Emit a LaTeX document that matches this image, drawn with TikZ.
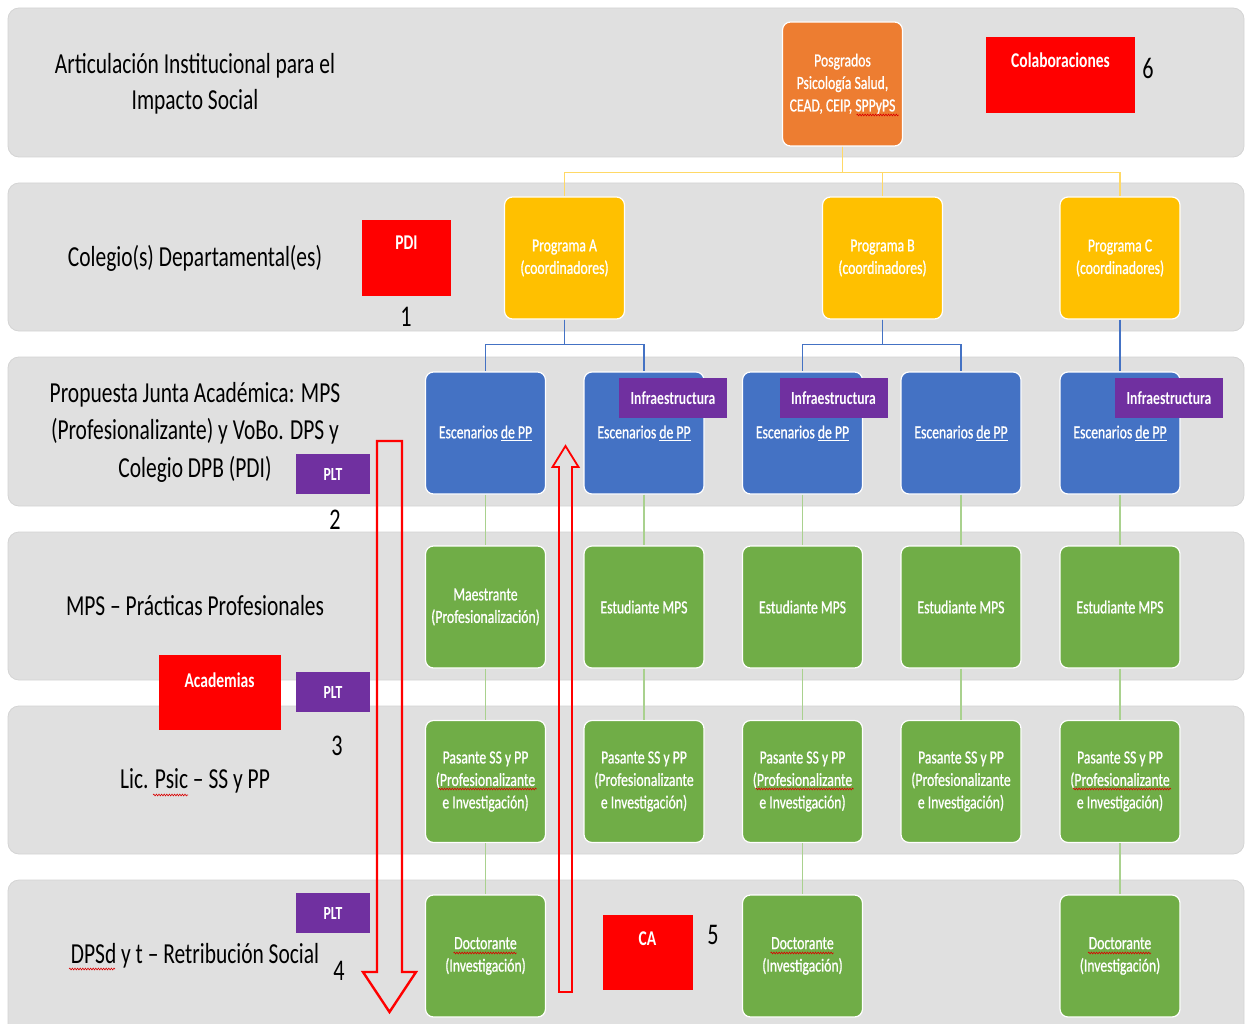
\documentclass[tikz,border=0pt]{standalone}
\usepackage{fontspec}
\setmainfont[FakeStretch=0.74]{Carlito}
\newfontfamily\boxfam[FakeStretch=0.74, FakeBold=0.8]{Carlito}
\usetikzlibrary{decorations.pathmorphing}
\definecolor{bandc}{HTML}{E0E0E0}
\definecolor{bandl}{HTML}{D4D4D4}
\definecolor{bluec}{HTML}{4472C4}
\definecolor{greenc}{HTML}{70AD47}
\definecolor{greenl}{HTML}{A9D18E}
\definecolor{yellowc}{HTML}{FFC000}
\definecolor{yellowl}{HTML}{FFD966}
\definecolor{orangec}{HTML}{ED7D31}
\definecolor{purplec}{HTML}{7030A0}
\definecolor{redc}{HTML}{FF0000}
\newcommand\boxfnt{\boxfam\fontsize{18.5}{22.5}\selectfont}
\newcommand\tagfnt{\fontsize{18.5}{22.5}\selectfont\bfseries}
\newcommand\lblfnt{\fontsize{29}{36}\selectfont}
\newcommand\numfnt{\fontsize{30}{36}\selectfont}
\tikzset{
  band/.style={fill=bandc, draw=bandl, line width=0.8, rounded corners=11},
  box/.style={rounded corners=8, minimum width=120, minimum height=122,
    align=center, inner sep=0, draw=white, line width=1.2, text=white, font=\boxfnt},
  tag/.style={fill=purplec, text=white, font=\tagfnt, inner sep=0, align=center},
  redbox/.style={fill=redc, text=white, inner sep=0, align=center, font=\fontsize{21}{24}\selectfont\bfseries},
  lbl/.style={align=center, font=\lblfnt, text=black},
  num/.style={font=\numfnt, text=black, inner sep=0},
  yl/.style={draw=yellowl, line width=1.4},
  bl/.style={draw=bluec, line width=1.2},
  gl/.style={draw=greenl, line width=1.2},
  blockarrow/.style={draw=redc, line join=miter},
  squig/.style={draw=red!85!black, line width=0.6, decorate,
    decoration={snake, amplitude=0.9, segment length=2.6}}
}
\begin{document}
\begin{tikzpicture}[x=1pt,y=-1pt]
\clip (0,0) rectangle (1247,1024);
\fill[white] (0,0) rectangle (1247,1024);
% bands
\foreach \t/\b in {8/157,183/331,357/506,532/680,706/854,880/1045}
  \path[band] (8,\t) rectangle (1244,\b);

% left labels
\node[lbl] (l1) at (195,84) {Articulación Institucional para el\\Impacto Social};
\node[lbl] (l2) at (195,258) {Colegio(s) Departamental(es)};
\node[lbl, font=\fontsize{29}{37.5}\selectfont] (l3) at (195,432) {Propuesta Junta Académica: MPS\\(Profesionalizante) y VoBo. DPS y\\Colegio DPB (PDI)};
\node[lbl] (l4) at (195,606) {MPS – Prácticas Profesionales};
\node[lbl] (l5) at (195,781) {Lic. Psic – SS y PP};
\node[lbl] (l6) at (195,956) {DPSd y t – Retribución Social};

% red boxes
\node[redbox, minimum width=89, text height=30, text depth=46] (pdi) at (406.5,258) {PDI};
\node[redbox, minimum width=149, text height=31, text depth=45] (colab) at (1060.5,75) {Colaboraciones};
\node[redbox, minimum width=122, text height=32, text depth=43] (acad) at (219.5,692.5) {Academias};
\node[redbox, minimum width=90, text height=30, text depth=45] (ca) at (647.5,952.5) {CA};

% PLT boxes
\node[tag, minimum width=74, minimum height=40] (plt1) at (333,474) {PLT};
\node[tag, minimum width=74, minimum height=40] (plt2) at (333,692) {PLT};
\node[tag, minimum width=74, minimum height=40] (plt3) at (333,913) {PLT};

% numbers
\node[num] (n1) at (406,317) {1};
\node[num] (n2) at (335,520) {2};
\node[num] (n3) at (337,746) {3};
\node[num] (n4) at (339,971) {4};
\node[num] (n5) at (713,935) {5};
\node[num] (n6) at (1148,68) {6};

% top boxes
\node[box, fill=orangec, minimum height=124] (org) at (842.5,84) {Posgrados\\Psicología Salud,\\CEAD, CEIP, SPPyPS};
\node[box, fill=yellowc] (pa) at (564.5,258) {Programa A\\(coordinadores)};
\node[box, fill=yellowc] (pb) at (882.5,258) {Programa B\\(coordinadores)};
\node[box, fill=yellowc] (pc) at (1120,258) {Programa C\\(coordinadores)};

% blue row
\foreach \i/\x in {1/485.5,2/644,3/802.5,4/961,5/1120}
  \node[box, fill=bluec] (b\i) at (\x,433) {Escenarios \underline{de PP}};

% green rows
\node[box, fill=greenc] (g1) at (485.5,607) {Maestrante\\(Profesionalización)};
\foreach \i/\x in {2/644,3/802.5,4/961,5/1120}
  \node[box, fill=greenc] (g\i) at (\x,607) {Estudiante MPS};
\foreach \i/\x in {1/485.5,2/644,3/802.5,4/961,5/1120}
  \node[box, fill=greenc] (s\i) at (\x,781.5) {Pasante SS y PP\\(Profesionalizante\\e Investigación)};
\foreach \i/\x in {1/485.5,3/802.5,5/1120}
  \node[box, fill=greenc] (d\i) at (\x,956) {Doctorante\\(Investigación)};

% infraestructura tags
\node[tag, minimum width=108, minimum height=40] (t2) at (673,398) {Infraestructura};
\node[tag, minimum width=108, minimum height=40] (t3) at (833.5,398) {Infraestructura};
\node[tag, minimum width=108, minimum height=40] (t5) at (1169,398) {Infraestructura};

% connectors
\draw[yl] (org.south) -- ++(0,26) -| (pa.north);
\draw[yl] (org.south) -- ++(0,26) -| (pb.north);
\draw[yl] (org.south) -- ++(0,26) -| (pc.north);
\draw[bl] (pa.south) -- ++(0,25) -| (b1.north);
\draw[bl] (pa.south) -- ++(0,25) -| (b2.north);
\draw[bl] (pb.south) -- ++(0,25) -| (b3.north);
\draw[bl] (pb.south) -- ++(0,25) -| (b4.north);
\draw[bl] (pc.south) -- (b5.north);
\foreach \i in {1,...,5} {
  \draw[gl] (b\i.south) -- (g\i.north);
  \draw[gl] (g\i.south) -- (s\i.north);
}
\foreach \i in {1,3,5}
  \draw[gl] (s\i.south) -- (d\i.north);

% spell-check squiggles
\draw[squig] ([xshift=14,yshift=-31]org.center) -- ++(42,0);
\foreach \i in {1,3,5} {
  \draw[squig] ([xshift=-47,yshift=-7.5]s\i.center) -- ++(98,0);
  \draw[squig] ([xshift=-32,yshift=3]d\i.center) -- ++(63,0);
}
\draw[squig] (153,795) -- (188,795);
\draw[squig] (69,969) -- (115,969);

% block arrows
\draw[blockarrow, line width=2.4] (377,441) -- (402,441) -- (402,972) -- (416,972) -- (389.5,1012) -- (363,972) -- (377,972) -- cycle;
\draw[blockarrow, line width=1.8] (559,992) -- (572,992) -- (572,467) -- (578.5,467) -- (565.5,446) -- (552.5,467) -- (559,467) -- cycle;
\end{tikzpicture}
\end{document}
